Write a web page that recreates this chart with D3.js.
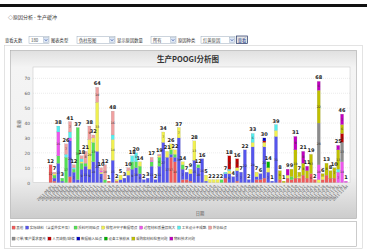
<!DOCTYPE html>
<html>
<head>
<meta charset="utf-8">
<script src="https://cdn.jsdelivr.net/npm/d3@7"></script>
<style>
body { margin: 0; background: #fff; }
svg { font-family: "Noto Sans CJK SC", "Noto Sans", sans-serif; }
</style>
</head>
<body>
<script>
// dates on the x axis (one bar per day that has data)
let dates = [
  "2011-08-01","2011-08-02","2011-08-03","2011-08-04","2011-08-05","2011-08-06","2011-08-08","2011-08-09","2011-08-10","2011-08-11",
  "2011-08-12","2011-08-13","2011-08-15","2011-08-16","2011-08-17","2011-08-18","2011-08-19","2011-08-20","2011-08-22","2011-08-23",
  "2011-08-24","2011-08-25","2011-08-26","2011-08-27","2011-08-29","2011-08-30","2011-08-31","2011-09-01","2011-09-02","2011-09-03",
  "2011-09-05","2011-09-06","2011-09-07","2011-09-08","2011-09-09","2011-09-10","2011-09-13","2011-09-14","2011-09-15","2011-09-16",
  "2011-09-17","2011-09-19","2011-09-20","2011-09-21","2011-09-22","2011-09-23","2011-09-24","2011-09-26","2011-09-27","2011-09-28",
  "2011-09-29","2011-09-30","2011-10-08","2011-10-09","2011-10-10","2011-10-11","2011-10-12","2011-10-13","2011-10-14","2011-10-15",
  "2011-10-17","2011-10-18","2011-10-19","2011-10-20","2011-10-21","2011-10-22","2011-10-24","2011-10-25","2011-10-26","2011-10-27",
  "2011-10-28","2011-10-29","2011-10-31","2011-11-01","2011-11-02","2011-11-03","2011-11-04"
];

let reasons = ["其他", "实际缺料（含委外实不及）", "投料时间延误", "排程冲突子数据错误", "过程材料质量损耗大",
  "工艺设计不成熟", "外协延误", "订单/客户要求更改", "人员缺勤/缺编", "数据输入延误", "设备工装模具",
  "采购和材料检查问题", "物料技术问题"];
let colors = ["#f05a5a", "#5555ee", "#55e055", "#f0f050", "#ee55ee", "#55eeee", "#f0a0a0",
  "#8c8c8c", "#c00000", "#0000c0", "#00b000", "#c0c000", "#c000c0"];

let other = [12,1,0,0,0,4,0,0,0,0, 0,0,0,0,0,1,0,1,0,0, 0,0,0,0,0,0,0,0,0,0, 0,17,14,0,2,2,1,0,0,0,
  0,0,0,0,0,3,0,0,1,0, 0,0,0,2,2,3,0,0,0,2, 0,3,2,3,3,5,3,6,2,0, 2,5,3,3,0,0,0];
let shortage = [0,2,13,1,0,24,7,2,9,11, 9,14,21,6,0,0,15,0,2,3, 5,9,10,6,2,3,11,2,11,27, 17,2,3,30,7,5,5,15,10,16,
  1,0,0,0,0,3,6,4,7,7, 22,2,24,2,4,21,7,1,31,0, 0,0,0,0,0,0,0,0,0,0, 0,0,0,0,0,0,0];
let feeding = [0,2,5,2,17,0,2,35,4,2, 0,13,0,0,2,0,0,0,0,0, 0,5,4,5,0,0,3,0,6,0, 0,3,2,0,3,0,0,0,2,0,
  0,0,0,0,2,0,0,0,0,0, 0,0,0,0,0,0,0,0,0,0, 0,0,2,0,0,0,0,0,0,0, 0,0,0,0,0,0,0];
let schedule = [0,1,0,0,0,0,0,0,1,0, 20,3,33,1,0,0,14,1,3,0, 3,0,0,3,0,0,0,0,1,7, 4,4,3,7,2,0,3,13,0,0,
  4,2,2,2,0,0,2,0,2,0, 0,0,3,3,0,3,3,0,4,0, 0,2,0,0,1,0,0,0,0,2, 2,0,0,0,0,0,0];
let processLoss = [0,0,16,0,0,2,0,0,0,0, 0,0,0,1,0,0,0,0,0,0, 0,0,0,0,0,0,1,0,0,0, 0,0,0,0,0,0,0,0,0,0,
  0,0,0,0,0,0,0,0,0,0, 0,0,0,0,0,0,0,0,0,0, 0,0,0,0,0,0,0,0,0,10, 0,0,0,0,7,14,1];
let craft = [0,0,4,0,2,4,1,0,2,0, 0,0,0,0,0,0,3,0,0,0, 0,4,6,0,0,0,0,0,0,0, 0,0,0,0,0,0,0,0,0,0,
  0,0,0,0,0,1,1,0,0,0, 0,0,6,0,0,0,0,0,4,0, 0,0,0,0,0,0,0,0,0,0, 0,0,0,0,2,0,0];
let outsource = [0,1,0,0,7,7,2,0,2,8, 9,2,10,2,10,0,16,0,0,0, 2,0,0,0,0,0,2,0,1,0, 0,0,0,0,0,0,0,0,0,0,
  0,0,0,0,0,0,0,0,0,0, 0,0,0,0,0,0,0,0,0,0, 0,0,0,0,0,0,0,0,0,0, 0,0,0,0,0,0,0];
let orderChange = [0,0,0,0,0,0,0,0,0,0, 0,0,0,0,0,0,0,0,0,0, 0,0,0,0,0,0,0,0,0,0, 0,0,0,0,0,0,0,0,0,0,
  0,0,0,0,0,0,0,0,0,0, 0,0,0,0,0,0,0,0,0,0, 0,0,0,0,0,0,0,0,0,28, 0,0,0,0,0,13,0];
let staff = [0,0,0,0,0,0,0,0,0,0, 0,0,0,0,0,0,0,0,0,0, 0,0,0,0,0,0,0,0,0,0, 0,0,0,0,0,0,0,0,0,0,
  0,0,0,0,0,0,9,0,6,0, 0,0,0,0,0,1,0,0,0,0, 0,0,0,0,0,0,0,0,0,0, 0,0,0,0,0,6,0];
let dataInput = [0,0,0,0,0,0,0,0,0,0, 0,0,0,0,0,0,0,0,0,0, 0,0,0,0,0,0,0,0,0,0, 0,0,0,0,0,0,0,0,0,0,
  0,0,0,0,0,0,0,0,0,0, 0,0,0,0,0,2,0,0,0,0, 0,0,0,0,0,0,0,0,0,0, 0,0,0,0,0,0,0];
let equipment = [0,0,0,0,0,0,0,0,0,0, 0,0,0,0,0,0,0,0,0,0, 0,0,0,0,0,0,0,0,0,0, 0,0,0,0,0,0,0,0,0,0,
  0,0,0,0,0,0,0,0,0,0, 0,0,0,0,0,0,4,0,0,0, 0,0,0,0,0,0,0,0,0,0, 0,0,0,0,0,0,0];
let purchase = [0,0,0,0,0,0,0,0,0,0, 0,0,0,0,0,0,0,0,0,0, 0,0,0,0,0,0,0,0,0,0, 0,0,0,0,0,0,0,0,0,0,
  0,0,0,0,0,0,0,0,0,0, 0,0,0,0,0,0,0,0,0,6, 1,0,5,19,3,8,5,13,0,22, 2,8,5,7,13,6,0];
let techIssue = [0,0,0,0,0,0,0,0,0,0, 0,0,0,0,0,0,0,0,0,0, 0,0,0,0,0,0,0,0,0,0, 0,0,0,0,0,0,0,0,0,0,
  0,0,0,0,0,0,0,0,0,0, 0,0,0,0,0,0,0,0,0,0, 0,4,0,9,0,8,3,0,0,6, 0,0,0,0,3,7,0];

let yTicks = [0, 10, 20, 30, 40, 50, 60, 70];

let allSeries = [other, shortage, feeding, schedule, processLoss, craft, outsource,
  orderChange, staff, dataInput, equipment, purchase, techIssue];

let rows = dates.map(function (d, i) {
  let r = {date: d};
  reasons.forEach(function (k, j) { r[k] = allSeries[j][i]; });
  return r;
});

let w = 367, h = 249;
let svg = d3.select("body").append("svg").attr("width", w).attr("height", h);

// page header
svg.append("rect").attr("x", 0).attr("y", 4).attr("width", w).attr("height", 3).attr("fill", "#111");
svg.append("text").attr("x", 8).attr("y", 19).attr("font-size", 5).attr("fill", "#333")
  .text("◇原因分析 - 生产缓冲");

// control row
function label(x, t) {
  svg.append("text").attr("x", x).attr("y", 41.8).attr("font-size", 4.3).attr("fill", "#333").text(t);
}
function select(x, wd, t) {
  svg.append("rect").attr("x", x).attr("y", 36.5).attr("width", wd).attr("height", 7)
    .attr("fill", "#fff").attr("stroke", "#9aaabb").attr("stroke-width", 0.5);
  svg.append("text").attr("x", x + 2).attr("y", 41.8).attr("font-size", 4.3).attr("fill", "#444").text(t);
  svg.append("rect").attr("x", x + wd - 5.5).attr("y", 37.5).attr("width", 5).attr("height", 5)
    .attr("fill", "#dce6f6").attr("stroke", "#9aaabb").attr("stroke-width", 0.4);
  svg.append("path").attr("d", "M" + (x + wd - 4.3) + ",39.3 l1.3,1.5 l1.3,-1.5")
    .attr("fill", "none").attr("stroke", "#3050a0").attr("stroke-width", 0.7);
}
label(5, "查看天数"); select(29, 20, "180");
label(51, "图表类型"); select(77, 38, "伪柱形图");
label(117, "显示原因数量"); select(151, 25, "所有");
label(178, "原因种类"); select(201, 34, "红黄原因");
svg.append("rect").attr("x", 236.5).attr("y", 36).attr("width", 11).attr("height", 7.5)
  .attr("fill", "#e6e6e6").attr("stroke", "#223366").attr("stroke-width", 0.7);
svg.append("text").attr("x", 242).attr("y", 41.8).attr("font-size", 4.3).attr("text-anchor", "middle")
  .attr("fill", "#1a3a8a").text("查看");

// outer frame
svg.append("rect").attr("x", 4.5).attr("y", 45.5).attr("width", 358).attr("height", 203)
  .attr("fill", "none").attr("stroke", "#d0d0d0").attr("stroke-width", 0.6);

// chart panel
let defs = svg.append("defs");
let g1 = defs.append("linearGradient").attr("id", "panel").attr("x1", 0).attr("y1", 0).attr("x2", 0).attr("y2", 1);
g1.append("stop").attr("offset", "0").attr("stop-color", "#e0e0e0");
g1.append("stop").attr("offset", "0.1").attr("stop-color", "#f4f4f4");
g1.append("stop").attr("offset", "0.75").attr("stop-color", "#f0f0f0");
g1.append("stop").attr("offset", "1").attr("stop-color", "#cccccc");
svg.append("rect").attr("x", 10.5).attr("y", 50.5).attr("width", 346).attr("height", 168)
  .attr("fill", "url(#panel)").attr("stroke", "#a8a8a8").attr("stroke-width", 0.6);

svg.append("text").attr("x", 188).attr("y", 61.5).attr("text-anchor", "middle")
  .attr("font-size", 7.5).attr("font-weight", "bold").attr("fill", "#333")
  .attr("font-family", "'Noto Sans CJK SC', sans-serif").text("生产POOGI分析图");

let plot = {left: 33, right: 350, top: 67, bottom: 182.6};

svg.append("rect").attr("x", plot.left).attr("y", plot.top)
  .attr("width", plot.right - plot.left).attr("height", plot.bottom - plot.top)
  .attr("fill", "#fff").attr("stroke", "#c4c4c4").attr("stroke-width", 0.5);

let xScale = d3.scaleBand().domain(dates).range([49, 347.5]).paddingInner(0.2).paddingOuter(0);
let yScale = d3.scaleLinear().domain([0, 70]).range([plot.bottom, 78.4]);

// grid
svg.append("g").selectAll("line").data(yTicks.slice(1)).enter().append("line")
  .attr("x1", plot.left).attr("x2", plot.right)
  .attr("y1", function (d) { return yScale(d); })
  .attr("y2", function (d) { return yScale(d); })
  .attr("stroke", "#cfcfcf").attr("stroke-width", 0.4).attr("stroke-dasharray", "1,1");

let yAxis = svg.append("g").attr("transform", "translate(" + plot.left + ",0)")
  .call(d3.axisLeft(yScale).tickValues(yTicks).tickSize(0).tickPadding(3));
yAxis.select(".domain").remove();
yAxis.selectAll("text").attr("font-size", 4.4).attr("fill", "#555").attr("font-family", "'DejaVu Sans', sans-serif");

svg.append("text").attr("transform", "translate(21,124) rotate(-90)").attr("text-anchor", "middle")
  .attr("font-size", 4).attr("fill", "#555").text("数量");

// bars
let stacked = d3.stack().keys(reasons)(rows);

let layers = svg.append("g").selectAll("g").data(stacked).enter().append("g")
  .attr("fill", function (d, i) { return colors[i]; });

layers.selectAll("rect").data(function (d) { return d; }).enter().append("rect")
  .attr("x", function (d) { return xScale(d.data.date); })
  .attr("y", function (d) { return yScale(d[1]); })
  .attr("width", xScale.bandwidth())
  .attr("height", function (d) { return yScale(d[0]) - yScale(d[1]); })
  .attr("stroke", "#888").attr("stroke-width", 0.15);

// value inside bigger pieces
layers.selectAll("text").data(function (d) { return d.filter(function (p) { return p[1] - p[0] >= 6; }); })
  .enter().append("text")
  .attr("x", function (d) { return xScale(d.data.date) + xScale.bandwidth() / 2; })
  .attr("y", function (d) { return yScale((d[0] + d[1]) / 2) + 1.2; })
  .attr("text-anchor", "middle").attr("font-size", 3.2).attr("fill", "#333")
  .attr("font-family", "'DejaVu Sans', sans-serif")
  .text(function (d) { return d[1] - d[0]; });

// totals
let totals = rows.map(function (r) {
  return {date: r.date, v: d3.sum(reasons, function (k) { return r[k]; })};
});
svg.append("g").selectAll("text").data(totals).enter().append("text")
  .attr("x", function (d) { return xScale(d.date) + xScale.bandwidth() / 2; })
  .attr("y", function (d) { return yScale(d.v) - 2; })
  .attr("text-anchor", "middle").attr("font-size", 5).attr("font-weight", "bold").attr("fill", "#222")
  .attr("font-family", "'DejaVu Sans', sans-serif")
  .text(function (d) { return d.v; });

// x axis dates
let xAxis = svg.append("g").attr("transform", "translate(0," + plot.bottom + ")")
  .call(d3.axisBottom(xScale).tickSize(0));
xAxis.select(".domain").remove();
xAxis.selectAll("text").attr("y", 0).attr("dy", 0).attr("x", 0)
  .attr("transform", "translate(2.5,4) rotate(-45)").attr("text-anchor", "end")
  .attr("font-size", 3.6).attr("fill", "#555").attr("font-family", "'DejaVu Sans', sans-serif");

svg.append("text").attr("x", 200).attr("y", 215).attr("text-anchor", "middle")
  .attr("font-size", 4.2).attr("fill", "#555").text("日期");

// legend
svg.append("rect").attr("x", 10.5).attr("y", 221.5).attr("width", 346).attr("height", 25)
  .attr("fill", "#fff").attr("stroke", "#a8a8a8").attr("stroke-width", 0.6);
let lg = svg.append("g");
let lx = 12, ly = 229;
reasons.forEach(function (name, i) {
  if (i == 7) { lx = 12; ly = 240; }
  lg.append("rect").attr("x", lx).attr("y", ly - 3).attr("width", 3.2).attr("height", 3.2)
    .attr("fill", colors[i]).attr("stroke", "#666").attr("stroke-width", 0.2);
  let t = lg.append("text").attr("x", lx + 4.3).attr("y", ly).attr("font-size", 3.5)
    .attr("fill", "#444").text(name);
  lx += 4.3 + t.node().getComputedTextLength() + 2.2;
});
</script>
</body>
</html>
